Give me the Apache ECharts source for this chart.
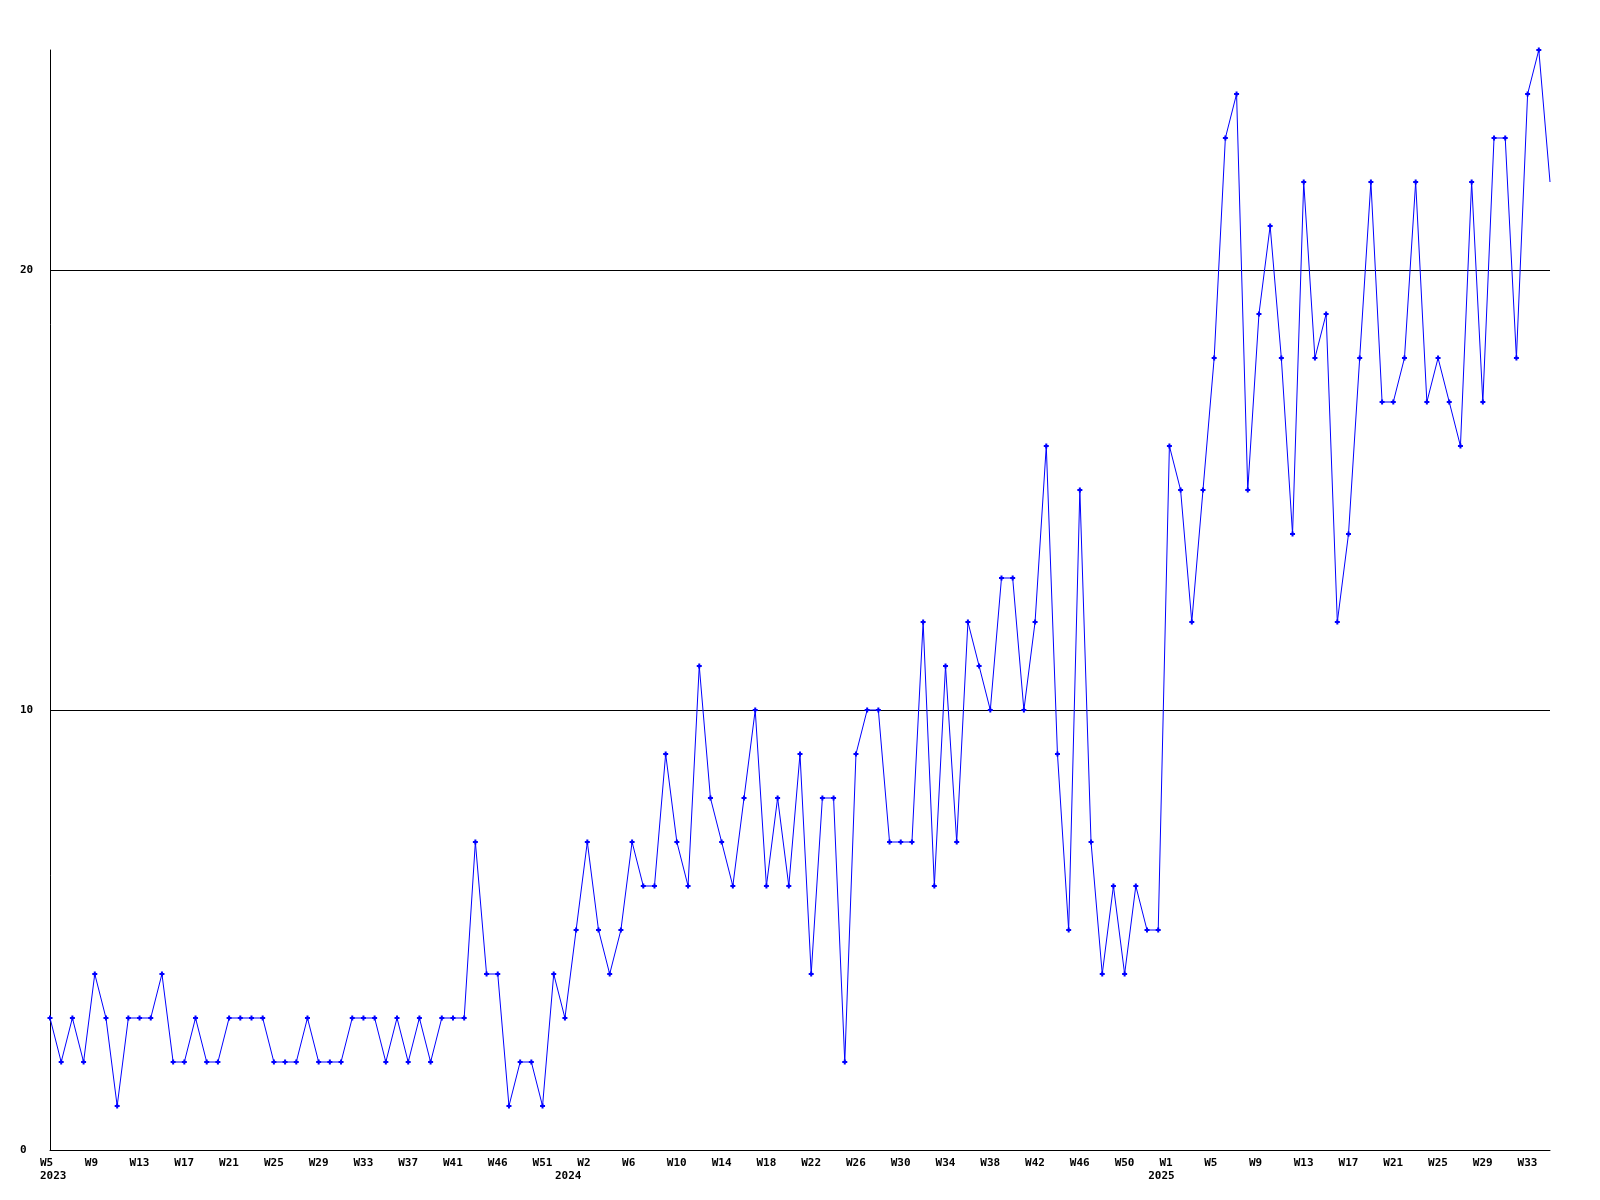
<!DOCTYPE html>
<html>
<head>
<meta charset="utf-8">
<script src="https://cdn.jsdelivr.net/npm/echarts@6/dist/echarts.min.js"></script>
<style>
html,body{margin:0;padding:0;background:#fff;}
#chart{width:1600px;height:1200px;}
</style>
</head>
<body>
<div id="chart"></div>
<script>
// Weekly values, 2023 W5 .. 2025 W35 (135 points)
const values2023 = [3,2,3,2,4,3,1,3,3,3,4,2,2,3,2,2,3,3,3,3,2,2,2,3,2,2,2,3,3,3,2,3,2,3,2,3,3,3,7,4,4,1,2,2,1,4,3,5];
const values2024 = [7,5,4,5,7,6,6,9,7,6,11,8,7,6,8,10,6,8,6,9,4,8,8,2,9,10,10,7,7,7,12,6,11,7,12,11,10,13,13,10,12,16,9,5,15,7,4,6,4,6,5,5];
const values2025 = [16,15,12,15,18,23,24,15,19,21,18,14,22,18,19,12,14,18,22,17,17,18,22,17,18,17,16,22,17,23,23,18,24,25,22];

// Week tick labels, shown every 4th point
const tickWeeks = ['W5','W9','W13','W17','W21','W25','W29','W33','W37','W41','W46','W51',
                   'W2','W6','W10','W14','W18','W22','W26','W30','W34','W38','W42','W46','W50',
                   'W1','W5','W9','W13','W17','W21','W25','W29','W33'];
// Year labels and the point index under which each sits
const yearLabels = ['2023', '2024', '2025'];
const yearIndex = [0, 46, 99];
const yTicks = [0, 10, 20];
const yMax = 25;

const values = values2023.concat(values2024, values2025);
const categories = values.map((v, i) => String(i));
// last point is drawn without a marker (it sits on the plot edge)
const seriesData = values.map((v, i) => i === values.length - 1 ? {value: v, symbol: 'none'} : v);

const FONT = '"DejaVu Sans Mono", "Liberation Mono", monospace';

const chart = echarts.init(document.getElementById('chart'), null, {renderer: 'canvas'});
chart.setOption({
  animation: false,
  backgroundColor: '#ffffff',
  grid: {left: 50, right: 50, top: 50, bottom: 50, containLabel: false},
  xAxis: {
    type: 'category',
    data: categories,
    boundaryGap: false,
    axisLine: {show: true, lineStyle: {color: '#000', width: 1}},
    axisTick: {show: false},
    splitLine: {show: false},
    axisLabel: {
      interval: function (idx) { return idx % 4 === 0 || yearIndex.indexOf(idx) >= 0; },
      margin: 7,
      align: 'center',
      formatter: function (val, idx) {
        let wk = ' ';
        if (idx % 4 === 0 && idx / 4 < tickWeeks.length) wk = tickWeeks[idx / 4];
        let s = '{w|' + wk + '}';
        const y = yearIndex.indexOf(idx);
        if (y >= 0) s += '\n{w|' + yearLabels[y] + '}';
        return s;
      },
      rich: {
        w: {width: 20, align: 'left', fontFamily: FONT, fontSize: 11, fontWeight: 'bold', color: '#000', lineHeight: 13}
      }
    }
  },
  yAxis: {
    type: 'value',
    min: 0,
    max: yMax,
    interval: 10,
    axisLine: {show: true, lineStyle: {color: '#000', width: 1}},
    axisTick: {show: false},
    splitLine: {show: true, lineStyle: {color: ['#000', '#000', '#000', 'rgba(0,0,0,0)'], width: 1}},
    axisLabel: {
      align: 'left',
      margin: 30,
      fontFamily: FONT,
      fontSize: 11,
      fontWeight: 'bold',
      color: '#000',
      showMaxLabel: false,
      formatter: function (v) { return yTicks.indexOf(v) >= 0 ? String(v) : ''; }
    }
  },
  series: [{
    type: 'line',
    data: seriesData,
    showAllSymbol: true,
    symbol: 'path://M1.5,0H3.5V1.5H5V3.5H3.5V5H1.5V3.5H0V1.5H1.5Z',
    symbolSize: 5,
    itemStyle: {color: '#0000ff'},
    lineStyle: {color: '#0000ff', width: 1},
    emphasis: {disabled: true}
  }]
});
</script>
</body>
</html>
